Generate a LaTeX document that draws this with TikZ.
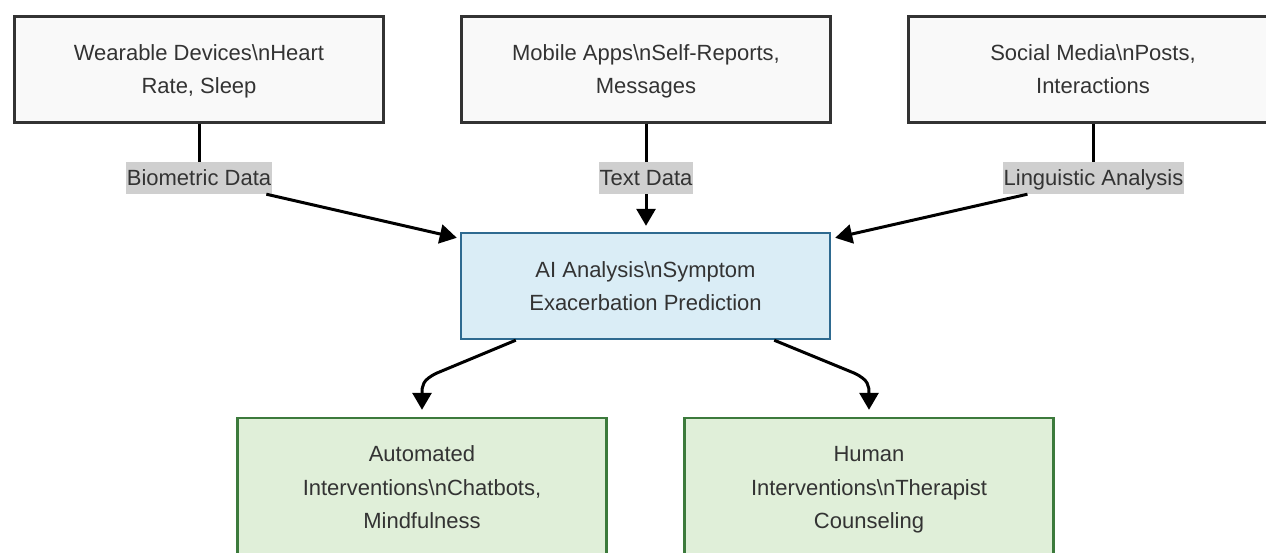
\documentclass[tikz,border=0pt]{standalone}
\usepackage{fontspec}
\setmainfont{Liberation Sans}
\usetikzlibrary{arrows.meta}
\definecolor{txt}{HTML}{333333}
\definecolor{srcfill}{HTML}{F9F9F9}
\definecolor{srcdraw}{HTML}{333333}
\definecolor{aifill}{HTML}{DAEDF6}
\definecolor{aidraw}{HTML}{2E6A90}
\definecolor{grfill}{HTML}{E0EFD9}
\definecolor{grdraw}{HTML}{3C7A3C}
\definecolor{lblfill}{HTML}{CFCFCF}
\newcommand\topstrut{\rule{0pt}{22pt}}
\newcommand\botstrut{\rule[-6pt]{0pt}{6pt}}
\tikzset{
  base/.style={rectangle, align=center, text=txt, font=\fontsize{22}{33.5}\selectfont,
    minimum width=369pt, inner sep=0pt},
  srcbox/.style={base, fill=srcfill, draw=srcdraw, line width=3pt, minimum height=106pt},
  aibox/.style={base, fill=aifill, draw=aidraw, line width=2.4pt, minimum height=106pt},
  outbox/.style={base, fill=grfill, draw=grdraw, line width=2.4pt, minimum height=138pt},
  lbl/.style={fill=lblfill, text=txt, font=\fontsize{22}{24}\selectfont, inner xsep=1pt,
    text height=18pt, text depth=3pt, minimum height=32pt, inner ysep=0pt},
  conn/.style={line width=3pt, black},
  arr/.style={conn, -{Triangle[length=17pt,width=19pt]}},
}
\begin{document}
\begin{tikzpicture}[x=1pt,y=-1pt]
\useasboundingbox (0,0) rectangle (1266,552);
\clip (0,0) rectangle (1266,552);
\node[srcbox] (wd) at (199,69) {\topstrut Wearable Devices\textbackslash nHeart\\Rate, Sleep\botstrut};
\node[srcbox] (ma) at (646,69) {\topstrut Mobile Apps\textbackslash nSelf-Reports,\\Messages\botstrut};
\node[srcbox] (sm) at (1093,69) {\topstrut Social Media\textbackslash nPosts,\\Interactions\botstrut};
\node[aibox] (ai) at (645.5,286) {\topstrut AI Analysis\textbackslash nSymptom\\Exacerbation Prediction\botstrut};
\node[outbox] (au) at (422,487) {\topstrut Automated\\Interventions\textbackslash nChatbots,\\Mindfulness\botstrut};
\node[outbox] (hu) at (869,487) {\topstrut Human\\Interventions\textbackslash nTherapist\\Counseling\botstrut};
\node[lbl] (lb) at (199,178) {Biometric Data};
\node[lbl] (lt) at (646,178) {Text Data};
\node[lbl] (ll) at (1093.5,178) {Linguistic Analysis};
% edges
\draw[conn] (wd.south) -- (lb.north);
\draw[arr] ([xshift=-6pt]lb.south east) -- ([xshift=-3pt,yshift=-6pt]ai.north west);
\draw[conn] (ma.south) -- (lt.north);
\draw[arr] (lt.south) -- ([yshift=6pt]ai.north -| lt.south);
\draw[conn] (sm.south) -- (sm.south |- ll.north);
\draw[arr] ([xshift=25pt]ll.south west) -- ([xshift=4pt,yshift=-6pt]ai.north east);
\draw[arr] ([xshift=56pt]ai.south west) -- (437,373) .. controls (422,380) and (422,386) .. (422,394) -- ([yshift=7pt]au.north);
\draw[arr] ([xshift=-57pt]ai.south east) -- (854,373) .. controls (869,380) and (869,386) .. (869,394) -- ([yshift=7pt]hu.north);
\end{tikzpicture}
\end{document}
